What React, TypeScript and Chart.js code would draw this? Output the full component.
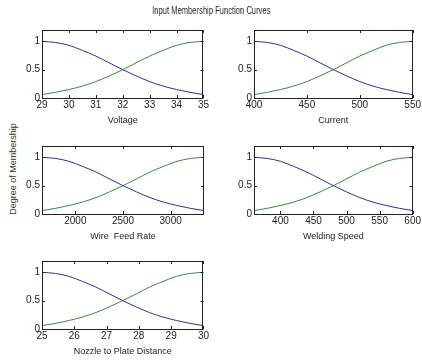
import React, { useEffect, useRef } from 'react';
import { Chart, registerables } from 'chart.js';

Chart.register(...registerables);

// ---- data ----
const lowDegree = [1, 0.98, 0.93, 0.84, 0.74, 0.62, 0.5, 0.39, 0.29, 0.21, 0.15, 0.1, 0.06];
const highDegree = [0.06, 0.1, 0.15, 0.21, 0.29, 0.39, 0.5, 0.62, 0.74, 0.84, 0.93, 0.98, 1];

const voltageX = [29, 29.5, 30, 30.5, 31, 31.5, 32, 32.5, 33, 33.5, 34, 34.5, 35];
const voltageTicks = [29, 30, 31, 32, 33, 34, 35];

const currentX = [400, 412.5, 425, 437.5, 450, 462.5, 475, 487.5, 500, 512.5, 525, 537.5, 550];
const currentTicks = [400, 450, 500, 550];

const wireFeedX = [1650, 1792, 1933, 2075, 2217, 2358, 2500, 2642, 2783, 2925, 3067, 3208, 3350];
const wireFeedTicks = [2000, 2500, 3000];

const weldingSpeedX = [360, 380, 400, 420, 440, 460, 480, 500, 520, 540, 560, 580, 600];
const weldingSpeedTicks = [400, 450, 500, 550, 600];

const nozzleX = [25, 25.42, 25.83, 26.25, 26.67, 27.08, 27.5, 27.92, 28.33, 28.75, 29.17, 29.58, 30];
const nozzleTicks = [25, 26, 27, 28, 29, 30];

const degreeTicks = [0, 0.5, 1];
const degreeMax = 1.2;

const chartTitle = 'Input Membership Function Curves';
const yAxisLabel = 'Degree of Membership';

const FONT = "'Liberation Sans', Arial, sans-serif";
const BLUE = '#2e2e9e';
const GREEN = '#2f8f3a';
const AXIS = '#222222';

const PAD_L = 34;
const PAD_T = 6;
const PAD_R = 6;
const X_H = 28;
const PLOT_W = 162;
const PLOT_H = 70;

const innerTicks = {
  id: 'innerTicks',
  afterDraw(chart: any) {
    const { ctx, chartArea } = chart;
    const { left, right, top, bottom } = chartArea;
    const xs = chart.scales.x;
    const ys = chart.scales.y;
    ctx.save();
    ctx.strokeStyle = AXIS;
    ctx.lineWidth = 1;
    ctx.beginPath();
    const L = 3;
    xs.ticks.forEach((t: any) => {
      const px = Math.round(xs.getPixelForValue(t.value)) + 0.5;
      ctx.moveTo(px, bottom);
      ctx.lineTo(px, bottom - L);
      ctx.moveTo(px, top);
      ctx.lineTo(px, top + L);
    });
    ys.ticks.forEach((t: any) => {
      const py = Math.round(ys.getPixelForValue(t.value)) + 0.5;
      ctx.moveTo(left, py);
      ctx.lineTo(left + L, py);
      ctx.moveTo(right, py);
      ctx.lineTo(right - L, py);
    });
    ctx.stroke();
    ctx.strokeRect(Math.round(left) + 0.5, Math.round(top) + 0.5, Math.round(right - left) - 1, Math.round(bottom - top));
    ctx.restore();
  },
};

type PlotProps = {
  xs: number[];
  ticks: number[];
  label: string;
  plotLeft: number;
  plotTop: number;
};

function MembershipPlot({ xs, ticks, label, plotLeft, plotTop }: PlotProps) {
  const ref = useRef<HTMLCanvasElement | null>(null);
  useEffect(() => {
    if (!ref.current) return;
    const chart = new Chart(ref.current, {
      type: 'line',
      data: {
        datasets: [
          {
            data: xs.map((x, i) => ({ x, y: lowDegree[i] })),
            borderColor: BLUE,
            borderWidth: 1,
            pointRadius: 0,
            cubicInterpolationMode: 'monotone',
            fill: false,
          },
          {
            data: xs.map((x, i) => ({ x, y: highDegree[i] })),
            borderColor: GREEN,
            borderWidth: 1,
            pointRadius: 0,
            cubicInterpolationMode: 'monotone',
            fill: false,
          },
        ],
      },
      options: {
        animation: false,
        responsive: false,
        maintainAspectRatio: false,
        events: [],
        layout: { padding: { left: 0, top: PAD_T, right: PAD_R, bottom: 0 } },
        plugins: { legend: { display: false }, tooltip: { enabled: false }, title: { display: false } },
        scales: {
          x: {
            type: 'linear',
            min: xs[0],
            max: xs[xs.length - 1],
            grid: { display: false, drawTicks: false },
            border: { display: false },
            afterBuildTicks: (s: any) => {
              s.ticks = ticks.map((v) => ({ value: v }));
            },
            afterFit: (s: any) => {
              s.height = X_H;
            },
            ticks: {
              autoSkip: false,
              maxRotation: 0,
              padding: 1,
              color: '#222',
              font: { family: FONT, size: 10 },
              callback: (v: any) => String(v),
            },
            title: {
              display: true,
              text: label,
              color: '#222',
              padding: 0,
              font: { family: FONT, size: 9 },
            },
          },
          y: {
            type: 'linear',
            min: 0,
            max: degreeMax,
            grid: { display: false, drawTicks: false },
            border: { display: false },
            afterBuildTicks: (s: any) => {
              s.ticks = degreeTicks.map((v) => ({ value: v }));
            },
            afterFit: (s: any) => {
              s.width = PAD_L;
            },
            ticks: {
              padding: 2,
              color: '#222',
              font: { family: FONT, size: 10 },
              callback: (v: any) => String(v),
            },
          },
        },
      },
      plugins: [innerTicks],
    });
    return () => chart.destroy();
  }, []);
  const w = PAD_L + PLOT_W + PAD_R;
  const h = PAD_T + PLOT_H + X_H;
  return (
    <div style={{ position: 'absolute', left: plotLeft - PAD_L, top: plotTop - PAD_T, width: w, height: h }}>
      <canvas ref={ref} width={w} height={h} style={{ width: w, height: h, display: 'block' }} />
    </div>
  );
}

export default function App() {
  return (
    <div
      style={{
        position: 'fixed',
        left: 0,
        top: 0,
        width: 422,
        height: 360,
        background: '#ffffff',
        overflow: 'hidden',
      }}
    >
      <div
        style={{
          position: 'absolute',
          left: 0,
          width: 422,
          top: 4,
          textAlign: 'center',
          fontFamily: FONT,
          fontSize: 10,
          color: '#222',
          lineHeight: '13px',
          transform: 'scaleX(0.76)',
          transformOrigin: '212px 50%',
          willChange: 'transform',
        }}
      >
        {chartTitle}
      </div>
      <div
        style={{
          position: 'absolute',
          left: 13,
          top: 169,
          transform: 'translate(-50%, -50%) rotate(-90deg)',
          whiteSpace: 'nowrap',
          fontFamily: FONT,
          fontSize: 9,
          color: '#333',
          lineHeight: '12px',
        }}
      >
        {yAxisLabel}
      </div>
      <MembershipPlot xs={voltageX} ticks={voltageTicks} label="Voltage" plotLeft={42} plotTop={28} />
      <MembershipPlot xs={currentX} ticks={currentTicks} label="Current" plotLeft={254} plotTop={28} />
      <MembershipPlot xs={wireFeedX} ticks={wireFeedTicks} label="Wire  Feed Rate" plotLeft={42} plotTop={144} />
      <MembershipPlot xs={weldingSpeedX} ticks={weldingSpeedTicks} label="Welding Speed" plotLeft={254} plotTop={144} />
      <MembershipPlot xs={nozzleX} ticks={nozzleTicks} label="Nozzle to Plate Distance" plotLeft={42} plotTop={259} />
    </div>
  );
}
